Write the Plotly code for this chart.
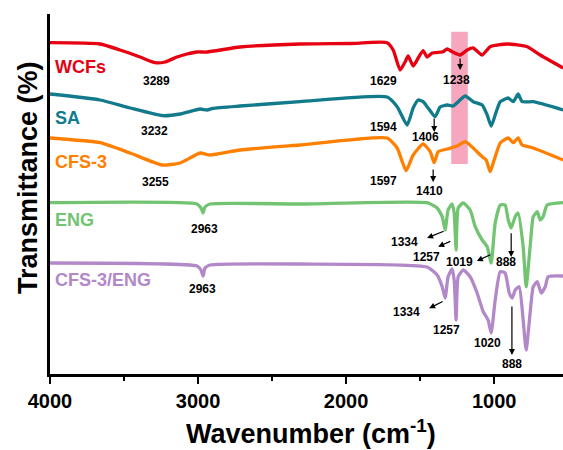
import plotly.graph_objects as go

# ---- data (wavenumber cm-1, stacked transmittance in arbitrary offset units) ----
wcfs_x = [4000, 3662, 3527, 3392, 3290, 3223, 3142, 3074, 3007, 2939, 2716, 2311, 1973, 1723, 1682, 1635, 1601, 1581, 1547, 1513, 1480, 1453, 1419, 1345, 1317, 1284, 1230, 1182, 1142, 1081, 1027, 912, 777, 689, 534]
wcfs_y = [331.3, 330, 324, 317, 311.3, 312, 317, 320, 322, 322, 327, 330, 330.5, 331.3, 324, 304, 312.3, 318, 308, 316, 323.3, 317, 321, 322.3, 325, 322.3, 319, 324, 326, 319, 327.3, 330, 327.3, 319, 306]

sa_x = [4000, 3662, 3459, 3236, 3122, 2986, 2939, 2899, 2716, 2311, 1723, 1655, 1588, 1547, 1513, 1480, 1446, 1399, 1365, 1317, 1277, 1196, 1142, 1081, 1047, 1020, 993, 959, 905, 871, 838, 811, 736, 534]
sa_y = [280, 274, 266, 258.3, 260, 265, 264, 265.7, 268, 272.3, 277, 267.3, 249, 266, 274, 272.3, 266, 257.3, 267, 269, 268, 278, 272.3, 269, 259, 248, 259, 272.3, 276, 272.3, 280, 272.3, 272.3, 264]

cfs_x = [4000, 3662, 3459, 3243, 3122, 2986, 2919, 2716, 2311, 1723, 1655, 1595, 1547, 1480, 1432, 1405, 1378, 1317, 1250, 1196, 1142, 1081, 1054, 1027, 1000, 959, 905, 871, 838, 811, 736, 534]
cfs_y = [236, 231.3, 221, 209, 211, 221, 219, 224, 229, 236, 226, 203.3, 219, 230, 222.3, 211.3, 222.3, 225, 228, 232.3, 226, 217.3, 214, 202.3, 214, 231, 236, 231.3, 236, 229, 226, 214]

eng_x = [4000, 3007, 2980, 2966, 2953, 2919, 2311, 1453, 1385, 1351, 1331, 1311, 1284, 1270, 1257, 1243, 1209, 1162, 1128, 1081, 1047, 1020, 993, 959, 926, 905, 885, 858, 838, 804, 784, 757, 736, 709, 689, 669, 642, 534]
eng_y = [171.3, 170, 166, 161, 167, 170, 170, 171.3, 166, 157.3, 144, 164, 170, 161, 124, 166, 171, 164, 147.3, 134, 127.3, 111, 151, 169, 169, 154, 146, 157.3, 161, 127.3, 87.3, 127.3, 157.3, 162.3, 154, 157.3, 169, 171.3]

ce_x = [4000, 3007, 2980, 2966, 2953, 2919, 2311, 1453, 1385, 1351, 1331, 1311, 1284, 1270, 1257, 1243, 1209, 1162, 1115, 1074, 1041, 1020, 993, 959, 926, 898, 878, 858, 831, 804, 784, 757, 736, 709, 682, 655, 635, 534]
ce_y = [111, 108, 104, 98, 106, 109, 110, 107, 99, 87.3, 76, 97.3, 105, 94, 54, 97.3, 104, 97.3, 81, 62.3, 54, 41, 74, 102.3, 101, 81, 76, 84, 87.3, 54, 24, 61, 87.3, 92.3, 81, 87.3, 97.3, 98]

series_names = ["WCFs", "SA", "CFS-3", "ENG", "CFS-3/ENG"]
series_colors = ["#E60012", "#117A8B", "#FF8000", "#72C472", "#B388C9"]
series_label_y = [307.3, 256, 212.3, 154, 94]

# peak labels: text, x, y
peak_text = ["3289", "3232", "3255", "1629", "1238", "1594", "1406", "1597", "1410",
             "2963", "2963", "1334", "1257", "1019", "888", "1334", "1257", "1020", "888"]
peak_x = [3284, 3297, 3290, 1750, 1257, 1750, 1466, 1750, 1439,
          2959, 2973, 1608, 1459, 1236, 919, 1590, 1320, 1047, 880]
peak_y = [293.3, 243, 192.3, 293.3, 294, 247, 237, 193, 183.3,
          145, 85.3, 132.3, 117.3, 112, 112, 62, 44, 31, 10]

# arrows: tail (x0,y0) -> head (x1,y1)
arrow_x0 = [1230, 1405, 1412, 1331, 1286, 1016, 885, 1338, 880]
arrow_y0 = [317, 257, 206, 143.3, 133.3, 120, 142.3, 73.3, 69]
arrow_x1 = [1230, 1405, 1412, 1453, 1378, 1117, 885, 1439, 880]
arrow_y1 = [304, 242, 192, 136, 127.3, 113, 117, 65.7, 19]

# highlighted band
band_x = [1290, 1178]
band_y = [210, 342.3]

fig = go.Figure()

fig.add_shape(type="rect", xref="x", yref="y", x0=band_x[0], x1=band_x[1],
              y0=band_y[0], y1=band_y[1], fillcolor="#F6A7BD", line_width=0, layer="below")

xs = [wcfs_x, sa_x, cfs_x, eng_x, ce_x]
ys = [wcfs_y, sa_y, cfs_y, eng_y, ce_y]
for name, x, y, c in zip(series_names, xs, ys, series_colors):
    fig.add_trace(go.Scatter(x=x, y=y, mode="lines", name=name,
                             line=dict(color=c, width=3.3, shape="spline", smoothing=0.5),
                             showlegend=False))

for name, c, ly in zip(series_names, series_colors, series_label_y):
    fig.add_annotation(x=3980, y=ly, xref="x", yref="y", text=name, showarrow=False,
                       xanchor="left", yanchor="middle",
                       font=dict(family="Liberation Sans, Arial", size=18, color=c, weight="bold"))

for t, x, y in zip(peak_text, peak_x, peak_y):
    fig.add_annotation(x=x, y=y, xref="x", yref="y", text=t, showarrow=False,
                       xanchor="center", yanchor="middle",
                       font=dict(family="Liberation Sans, Arial", size=12, color="black", weight="bold"))

for x0, y0, x1, y1 in zip(arrow_x0, arrow_y0, arrow_x1, arrow_y1):
    fig.add_annotation(x=x1, y=y1, ax=x0, ay=y0, xref="x", yref="y", axref="x", ayref="y",
                       text="", showarrow=True, arrowhead=2, arrowsize=1, arrowwidth=1.2,
                       arrowcolor="black", standoff=0, startstandoff=0)

fig.add_annotation(xref="paper", yref="paper", x=-0.043, y=0.547, text="Transmittance (%)",
                   textangle=-90, showarrow=False, xanchor="center", yanchor="middle",
                   font=dict(family="Liberation Sans, Arial", size=27, color="black", weight="bold"))
fig.add_annotation(xref="paper", yref="paper", x=0.509, y=-0.162, text="Wavenumber (cm<sup>-1</sup>)",
                   showarrow=False, xanchor="center", yanchor="middle",
                   font=dict(family="Liberation Sans, Arial", size=27, color="black", weight="bold"))

fig.update_layout(
    width=563, height=450,
    margin=dict(l=50, r=0, t=14, b=76),
    paper_bgcolor="white", plot_bgcolor="white",
    xaxis=dict(range=[4000, 535], showgrid=False, zeroline=False, showline=True,
               linecolor="black", linewidth=2.5, ticks="outside", ticklen=7, tickwidth=2,
               tickcolor="black", tickvals=[4000, 3000, 2000, 1000],
               tickfont=dict(family="Liberation Sans, Arial", size=20, color="black", weight="bold"),
               minor=dict(tickvals=[3500, 2500, 1500], ticks="outside", ticklen=4, tickwidth=2,
                          tickcolor="black")),
    yaxis=dict(range=[0, 360], showgrid=False, zeroline=False, showline=True,
               linecolor="black", linewidth=2.5, showticklabels=False, ticks=""),
)

fig.write_html("out.html")
